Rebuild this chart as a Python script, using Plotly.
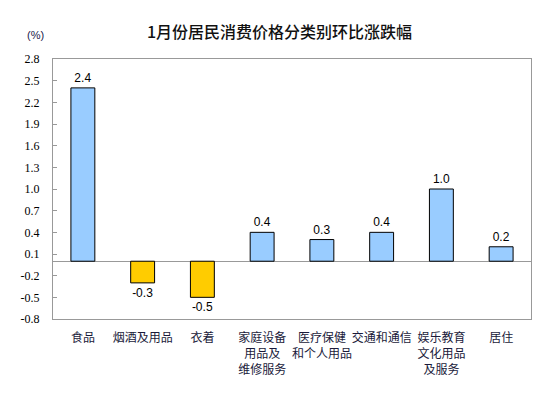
import plotly.graph_objects as go

categories = ["食品", "烟酒及用品", "衣着", "家庭设备<br>用品及<br>维修服务", "医疗保健<br>和个人用品",
              "交通和通信", "娱乐教育<br>文化用品<br>及服务", "居住"]
values = [2.4, -0.3, -0.5, 0.4, 0.3, 0.4, 1.0, 0.2]
y_ticks = [2.8, 2.5, 2.2, 1.9, 1.6, 1.3, 1.0, 0.7, 0.4, 0.1, -0.2, -0.5, -0.8]

colors = ["#99CCFF" if v >= 0 else "#FFCC00" for v in values]

# page offset of the figure (body margin) compensated in the margins
OFF = 8
L, R, T, B = 53 - OFF, 531 - OFF, 59 - OFF, 319 - OFF
W, H = 554, 398
PW, PH = R - L, B - T

fig = go.Figure(go.Bar(
    x=categories, y=values,
    marker=dict(color=colors, line=dict(color="black", width=1)),
    text=[f"{v:.1f}" for v in values], textposition="outside",
    textfont=dict(family="Liberation Sans, Arial", size=12, color="black"),
    cliponaxis=False,
))

fig.update_layout(
    width=W, height=H,
    margin=dict(l=L, r=W - R, t=T, b=H - B, autoexpand=False),
    paper_bgcolor="white", plot_bgcolor="white",
    bargap=0.6, showlegend=False,
)
fig.add_annotation(text="1月份居民消费价格分类别环比涨跌幅", xref="paper", yref="paper",
                   x=(279 - OFF - L) / PW, y=(B - (31 - OFF)) / PH, xanchor="center", yanchor="middle",
                   showarrow=False, font=dict(family="Noto Sans CJK SC", size=16, color="#111111", weight=500))
fig.add_annotation(text="(%)", xref="paper", yref="paper",
                   x=(35 - OFF - L) / PW, y=(B - (35 - OFF)) / PH, xanchor="center", yanchor="middle",
                   showarrow=False, font=dict(family="Liberation Sans, Arial", size=11, color="#1a1a4a"))

fig.update_xaxes(
    automargin=False, tickangle=0,
    showline=True, linecolor="#999999", linewidth=1, mirror=True,
    ticks="", ticklabelstandoff=8,
    tickfont=dict(family="Noto Sans CJK SC", size=12, color="#1a1a3a"),
)
fig.update_yaxes(
    automargin=False,
    range=[-0.8, 2.8], tickvals=y_ticks, ticktext=[f"{t:.1f}" for t in y_ticks],
    showgrid=False, zeroline=True, zerolinecolor="#999999", zerolinewidth=1,
    showline=True, linecolor="#999999", linewidth=1, mirror=True,
    ticks="inside", ticklen=4, tickcolor="#999999", ticklabelstandoff=10,
    tickfont=dict(family="Liberation Serif, Times New Roman", size=12, color="black"),
)

fig.write_html("out.html")
